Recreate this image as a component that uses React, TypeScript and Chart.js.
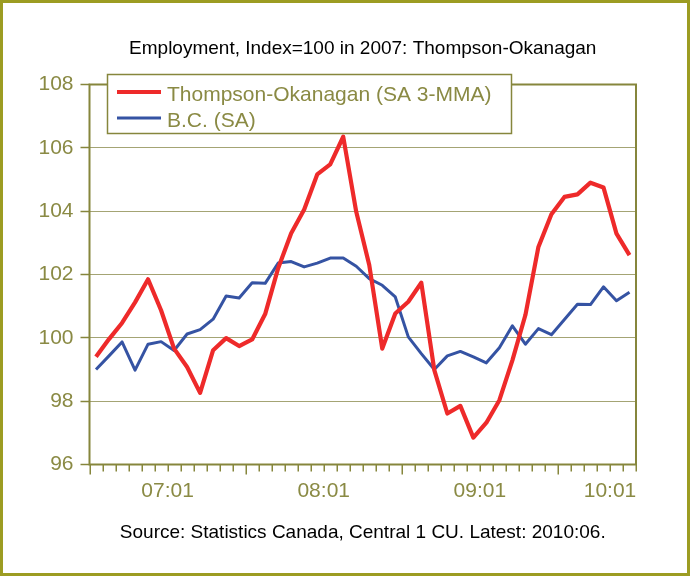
import React, { useEffect, useRef } from 'react';
import { Chart, registerables } from 'chart.js';

Chart.register(...registerables);

// ---- data ----
const months = [
  '07:01', '07:02', '07:03', '07:04', '07:05', '07:06', '07:07', '07:08', '07:09', '07:10', '07:11', '07:12',
  '08:01', '08:02', '08:03', '08:04', '08:05', '08:06', '08:07', '08:08', '08:09', '08:10', '08:11', '08:12',
  '09:01', '09:02', '09:03', '09:04', '09:05', '09:06', '09:07', '09:08', '09:09', '09:10', '09:11', '09:12',
  '10:01', '10:02', '10:03', '10:04', '10:05', '10:06',
];

const thompsonOkanagan = [
  99.4, 99.96, 100.47, 101.12, 101.85, 100.87, 99.66, 99.08, 98.26, 99.61, 99.99, 99.74,
  99.95, 100.75, 102.2, 103.3, 104.05, 105.16, 105.48, 106.35, 103.98, 102.3, 99.66, 100.77,
  101.14, 101.74, 98.98, 97.61, 97.85, 96.85, 97.32, 98.03, 99.29, 100.72, 102.87, 103.9,
  104.45, 104.53, 104.9, 104.75, 103.29, 102.61,
];

const bc = [
  99.0, 99.43, 99.87, 98.98, 99.8, 99.88, 99.6, 100.12, 100.26, 100.59, 101.32, 101.26,
  101.74, 101.72, 102.36, 102.41, 102.24, 102.36, 102.52, 102.52, 102.26, 101.87, 101.66, 101.29,
  100.03, 99.5, 99.0, 99.43, 99.57, 99.4, 99.21, 99.69, 100.38, 99.8, 100.29, 100.1,
  100.58, 101.06, 101.05, 101.61, 101.17, 101.44,
];

const yMin = 96;
const yMax = 108;
const yStep = 2;

const seriesNames = ['Thompson-Okanagan (SA 3-MMA)', 'B.C. (SA)'];
const titleText = 'Employment, Index=100 in 2007: Thompson-Okanagan';
const sourceText = 'Source: Statistics Canada, Central 1 CU. Latest: 2010:06.';

const yearLabels = months.filter((m) => m.endsWith(':01'));
const yearLabelPositions = yearLabels.map((l) =>
  Math.min(months.indexOf(l) + 5.5, months.length - 2.5)
);

// ---- styles ----
const OLIVE = '#86863c';
const OLIVE_TEXT = '#8a8a44';
const FRAME = '#9c9c22';
const GRID = '#a4a474';
const RED = '#ee2a2a';
const BLUE = '#3553a3';
const FONT = "'Liberation Sans', Arial, sans-serif";

const framePlugin = {
  id: 'frame',
  beforeDraw(chart: any) {
    const { ctx, width, height } = chart;
    ctx.save();
    ctx.fillStyle = '#ffffff';
    ctx.fillRect(0, 0, width, height);
    ctx.strokeStyle = FRAME;
    ctx.lineWidth = 3;
    ctx.strokeRect(1.5, 1.5, 687, height - 3);
    ctx.restore();
  },
};

const plotBorderPlugin = {
  id: 'plotBorder',
  beforeDatasetsDraw(chart: any) {
    const { ctx, chartArea } = chart;
    const xs = chart.scales.x;
    ctx.save();
    ctx.strokeStyle = OLIVE;
    ctx.lineWidth = 2;
    ctx.strokeRect(chartArea.left, chartArea.top, chartArea.right - chartArea.left, chartArea.bottom - chartArea.top);
    ctx.lineWidth = 1.5;
    for (let k = 0; k <= months.length; k++) {
      const px = Math.round(xs.getPixelForValue(k - 0.5)) + 0.25;
      const major = k < months.length && months[k].endsWith(':01');
      ctx.beginPath();
      ctx.moveTo(px, chartArea.bottom);
      ctx.lineTo(px, chartArea.bottom + (major ? 10 : 7));
      ctx.stroke();
    }
    ctx.restore();
  },
};

const legendPlugin = {
  id: 'boxLegend',
  afterDraw(chart: any) {
    const { ctx } = chart;
    const bx = 107.5;
    const by = 74.5;
    const bw = 404;
    const bh = 59;
    ctx.save();
    ctx.fillStyle = '#ffffff';
    ctx.fillRect(bx, by, bw, bh);
    ctx.strokeStyle = OLIVE;
    ctx.lineWidth = 1.5;
    ctx.strokeRect(bx, by, bw, bh);
    const rows = [92, 118];
    chart.data.datasets.forEach((ds: any, i: number) => {
      const y = rows[i];
      ctx.strokeStyle = ds.borderColor;
      ctx.lineWidth = ds.borderWidth;
      ctx.beginPath();
      ctx.moveTo(117, y);
      ctx.lineTo(161, y);
      ctx.stroke();
      ctx.fillStyle = OLIVE_TEXT;
      ctx.font = `21px ${FONT}`;
      ctx.textAlign = 'left';
      ctx.textBaseline = 'alphabetic';
      ctx.fillText(ds.label, 167, y + 8.5);
    });
    ctx.restore();
  },
};

export default function App() {
  const canvasRef = useRef<HTMLCanvasElement | null>(null);

  useEffect(() => {
    if (!canvasRef.current) return;
    const chart = new Chart(canvasRef.current, {
      type: 'line',
      data: {
        labels: months,
        datasets: [
          {
            label: seriesNames[0],
            data: thompsonOkanagan.map((v, i) => ({ x: i, y: v })),
            borderColor: RED,
            backgroundColor: RED,
            borderWidth: 4.2,
            pointRadius: 0,
            tension: 0,
            borderJoinStyle: 'round',
          },
          {
            label: seriesNames[1],
            data: bc.map((v, i) => ({ x: i, y: v })),
            borderColor: BLUE,
            backgroundColor: BLUE,
            borderWidth: 3,
            pointRadius: 0,
            tension: 0,
            borderJoinStyle: 'round',
          },
        ],
      },
      options: {
        animation: false,
        responsive: false,
        devicePixelRatio: 1,
        layout: { padding: { left: 0, right: 55, top: 0, bottom: 0 } },
        plugins: {
          legend: { display: false },
          tooltip: { enabled: false },
          title: {
            display: true,
            fullSize: false,
            text: titleText,
            color: '#000000',
            font: { family: FONT, size: 19, weight: 'normal' },
            padding: { top: 37.2, bottom: 24.5 },
          },
          subtitle: {
            display: true,
            fullSize: false,
            position: 'bottom',
            text: sourceText,
            color: '#000000',
            font: { family: FONT, size: 19, weight: 'normal' },
            padding: { top: 16.6, bottom: 32.1 },
          },
        },
        scales: {
          x: {
            type: 'linear',
            min: -0.5,
            max: months.length - 0.5,
            afterBuildTicks: (s: any) => {
              s.ticks = yearLabelPositions.map((v) => ({ value: v }));
            },
            afterFit: (s: any) => {
              s.height = 40;
            },
            grid: { display: false, drawTicks: false, tickLength: 0 },
            border: { display: false },
            ticks: {
              autoSkip: false,
              maxRotation: 0,
              padding: 14,
              color: OLIVE_TEXT,
              font: { family: FONT, size: 21 },
              callback: (_v: any, idx: number) => yearLabels[idx],
            },
          },
          y: {
            min: yMin,
            max: yMax,
            afterFit: (s: any) => {
              s.width = 89.5;
            },
            grid: {
              color: GRID,
              lineWidth: 1,
              drawTicks: true,
              tickLength: 9,
              tickColor: OLIVE,
              tickWidth: 1.5,
            },
            border: { display: false },
            ticks: {
              stepSize: yStep,
              padding: 7,
              color: OLIVE_TEXT,
              font: { family: FONT, size: 21 },
            },
          },
        },
      },
      plugins: [framePlugin, plotBorderPlugin, legendPlugin],
    } as any);
    return () => chart.destroy();
  }, []);

  return (
    <div style={{ position: 'absolute', left: 0, top: 0, width: 691, height: 576 }}>
      <canvas ref={canvasRef} width={691} height={576} style={{ display: 'block' }} />
    </div>
  );
}
